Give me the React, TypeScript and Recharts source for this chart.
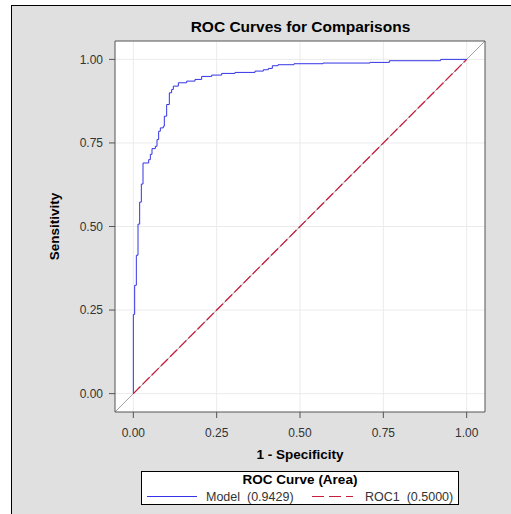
import React from 'react';
import { LineChart, Line, XAxis, YAxis, CartesianGrid, Legend } from 'recharts';

// ROC curve of the model: false positive rate (1 - specificity) and sensitivity
const modelFpr = [0, 0, 0.004, 0.009, 0.014, 0.019, 0.024, 0.029, 0.046, 0.051, 0.056, 0.066, 0.071, 0.076, 0.081, 0.09, 0.093, 0.1, 0.108, 0.115, 0.12, 0.135, 0.16, 0.185, 0.205, 0.235, 0.265, 0.305, 0.365, 0.39, 0.405, 0.417, 0.434, 0.482, 0.569, 0.71, 0.768, 0.922, 1.0];
const modelTpr = [0, 0.237, 0.324, 0.414, 0.507, 0.573, 0.627, 0.69, 0.7, 0.716, 0.733, 0.74, 0.76, 0.785, 0.795, 0.8, 0.83, 0.865, 0.9, 0.91, 0.92, 0.93, 0.935, 0.94, 0.949, 0.953, 0.958, 0.961, 0.965, 0.969, 0.973, 0.981, 0.984, 0.987, 0.989, 0.991, 0.996, 1.0, 1.0];
// chance ROC
const roc1Fpr = [0, 1];
const roc1Tpr = [0, 1];
// corner-to-corner diagonal
const diagX = [-0.055, 1.055];
const diagY = [-0.055, 1.055];

const axisTicks = [0, 0.25, 0.5, 0.75, 1];
const axisDomain = [-0.055, 1.055];
const chartTitle = 'ROC Curves for Comparisons';
const xLabel = '1 - Specificity';
const yLabel = 'Sensitivity';
const legendTitle = 'ROC Curve (Area)';
const seriesNames = ['Model', 'ROC1'];
const seriesAreas = ['0.9429', '0.5000'];

const modelData = modelFpr.map((x, i) => ({ x, y: modelTpr[i] }));
const roc1Data = roc1Fpr.map((x, i) => ({ x, y: roc1Tpr[i] }));
const diagData = diagX.map((x, i) => ({ x, y: diagY[i] }));

const BLUE = '#3434e6';
const RED = '#c81e3c';
const FRAME = '#555555';
const FONT = '"Liberation Sans", Arial, sans-serif';

const renderLegend = () => (
  <svg width={319} height={34} style={{ display: 'block', fontFamily: FONT }}>
    <rect x={0.5} y={0.5} width={317} height={33} fill="#ffffff" stroke="#000000" />
    <text x={159} y={13} textAnchor="middle" fontWeight="bold" fontSize={13.5} fill="#000">
      {legendTitle}
    </text>
    <line x1={6} x2={56} y1={25.5} y2={25.5} stroke={BLUE} strokeWidth={1} />
    <text x={65} y={29.5} fontSize={12.5} fill="#333" style={{ whiteSpace: 'pre' }}>
      {`${seriesNames[0]}  (${seriesAreas[0]})`}
    </text>
    <line x1={171} x2={212} y1={25.5} y2={25.5} stroke={RED} strokeWidth={1} strokeDasharray="12 5" />
    <text x={224} y={29.5} fontSize={12.5} fill="#333" style={{ whiteSpace: 'pre' }}>
      {`${seriesNames[1]}  (${seriesAreas[1]})`}
    </text>
  </svg>
);

export default function App() {
  return (
    <div style={{ position: 'absolute', left: 0, top: 0, width: 511, height: 514, overflow: 'hidden', background: '#ffffff' }}>
      <div
        style={{
          position: 'absolute',
          left: 11,
          top: 5,
          width: 530,
          height: 530,
          background: '#e0e0e0',
          border: '1px solid #000',
          boxSizing: 'border-box',
        }}
      />
      <div
        style={{
          position: 'absolute',
          left: 0,
          top: 18,
          width: 601,
          textAlign: 'center',
          fontFamily: FONT,
          fontWeight: 'bold',
          fontSize: '15.5px',
          lineHeight: '17.3px',
          color: '#000',
          whiteSpace: 'nowrap',
        }}
      >
        {chartTitle}
      </div>
      <div style={{ position: 'absolute', left: 0, top: 0 }}>
        <LineChart
          width={511}
          height={514}
          margin={{ top: 40, right: 25, bottom: 40, left: 0 }}
          style={{ fontFamily: FONT }}
        >
          <CartesianGrid stroke="#ebebeb" fill="#ffffff" horizontalValues={axisTicks} verticalValues={axisTicks} />
          <XAxis
            dataKey="x"
            type="number"
            domain={axisDomain}
            ticks={axisTicks}
            allowDataOverflow
            height={62}
            tickFormatter={(v: number) => v.toFixed(2)}
            tick={{ fill: '#333', fontSize: 12 }}
            tickSize={6}
            tickMargin={10}
            stroke={FRAME}
            label={{ value: xLabel, position: 'insideBottom', offset: 15, fontSize: 13.5, fontWeight: 'bold', fill: '#000' }}
          />
          <XAxis
            xAxisId="top"
            orientation="top"
            dataKey="x"
            type="number"
            domain={axisDomain}
            allowDataOverflow
            height={1}
            tick={false}
            tickLine={false}
            stroke={FRAME}
          />
          <YAxis
            dataKey="y"
            type="number"
            domain={axisDomain}
            ticks={axisTicks}
            allowDataOverflow
            width={115}
            tickFormatter={(v: number) => v.toFixed(2)}
            tick={{ fill: '#333', fontSize: 12 }}
            tickSize={6}
            tickMargin={6}
            stroke={FRAME}
            label={{ value: yLabel, angle: -90, position: 'insideLeft', offset: 54, fontSize: 13.5, fontWeight: 'bold', fill: '#000', style: { textAnchor: 'middle' } }}
          />
          <YAxis
            yAxisId="right"
            orientation="right"
            type="number"
            domain={axisDomain}
            allowDataOverflow
            width={1}
            tick={false}
            tickLine={false}
            stroke={FRAME}
          />
          <Line data={diagData} dataKey="y" stroke="#a0a0a0" strokeWidth={1} dot={false} activeDot={false} isAnimationActive={false} legendType="none" />
          <Line data={roc1Data} dataKey="y" name={seriesNames[1]} stroke={RED} strokeWidth={1.3} strokeDasharray="10 3" dot={false} activeDot={false} isAnimationActive={false} />
          <Line data={modelData} dataKey="y" name={seriesNames[0]} type="stepAfter" stroke={BLUE} strokeWidth={1} dot={false} activeDot={false} isAnimationActive={false} />
          <Legend
            layout="vertical"
            verticalAlign="middle"
            align="center"
            content={renderLegend}
            wrapperStyle={{ left: 141, top: 471, width: 319, height: 34 }}
          />
        </LineChart>
      </div>
    </div>
  );
}
